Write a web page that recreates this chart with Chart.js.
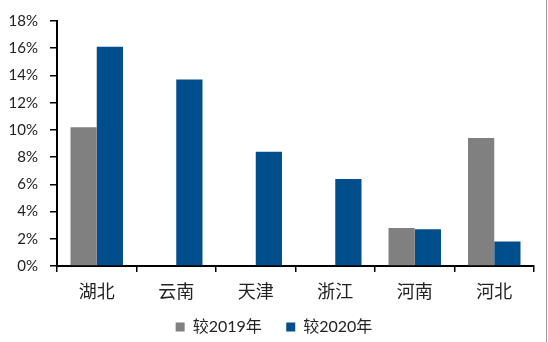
<!DOCTYPE html>
<html>
<head>
<meta charset="utf-8">
<script src="https://cdn.jsdelivr.net/npm/chart.js@4/dist/chart.umd.min.js"></script>
<style>
  body { margin: 0; background: #fff; }
  #wrap { position: relative; width: 548px; height: 342px; }
  #edge { position: absolute; left: 546px; top: 0; width: 1px; height: 342px; background: #9a9a9a; }
</style>
</head>
<body>
<div id="wrap"><canvas id="myChart" width="548" height="342"></canvas><div id="edge"></div></div>
<script>
// regions and values (percent)
var provinces = ['湖北', '云南', '天津', '浙江', '河南', '河北'];
var vs2019 = [10.2, null, null, null, 2.8, 9.4];
var vs2020 = [16.1, 13.7, 8.4, 6.4, 2.7, 1.8];
var yTicks = [0, 2, 4, 6, 8, 10, 12, 14, 16, 18];

var fontFam = 'Lato, "Noto Sans CJK SC", sans-serif';

var ctx = document.getElementById('myChart');
var chart = new Chart(ctx, {
    type: 'bar',
    data: {
        labels: provinces,
        datasets: [
            {
                label: '较2019年',
                data: vs2019,
                backgroundColor: '#808080',
                borderWidth: 0
            },
            {
                label: '较2020年',
                data: vs2020,
                backgroundColor: '#004e8c',
                borderWidth: 0
            }
        ]
    },
    options: {
        responsive: false,
        animation: false,
        layout: { padding: { top: 16, right: 0, left: 0, bottom: -3 } },
        datasets: { bar: { barPercentage: 1, categoryPercentage: 0.66 } },
        scales: {
            x: {
                afterFit: function (scale) { scale.height = 49; },
                grid: { drawOnChartArea: false, offset: true, tickLength: 6, color: '#000', lineWidth: 1.5 },
                border: { color: '#000', width: 2 },
                ticks: { color: '#222', font: { family: fontFam, size: 18 }, padding: 9 }
            },
            y: {
                min: 0,
                max: 18,
                afterBuildTicks: function (scale) {
                    scale.ticks = yTicks.map(function (v) { return { value: v }; });
                },
                afterFit: function (scale) { scale.width = 57; },
                grid: { drawOnChartArea: false, tickLength: 7, color: '#000', lineWidth: 1.5 },
                border: { color: '#000', width: 2 },
                ticks: {
                    color: '#222',
                    font: { family: fontFam, size: 15 },
                    padding: 12,
                    callback: function (v) { return v + '%'; }
                }
            },
            // empty spacer on the right so the legend stays centred on the page
            yRight: {
                position: 'right',
                afterFit: function (scale) { scale.width = 14; },
                grid: { display: false },
                border: { display: false },
                ticks: { display: false }
            }
        },
        plugins: {
            legend: {
                position: 'bottom',
                labels: {
                    boxWidth: 9,
                    boxHeight: 9,
                    padding: 4,
                    color: '#222',
                    font: { family: fontFam, size: 16 },
                    // keep the legend short but leave a wider gap between the two items
                    generateLabels: function (chart) {
                        var items = Chart.defaults.plugins.legend.labels.generateLabels(chart);
                        items[0].text = items[0].text + '     ';
                        return items;
                    }
                }
            },
            tooltip: { enabled: false }
        }
    }
});
</script>
</body>
</html>
